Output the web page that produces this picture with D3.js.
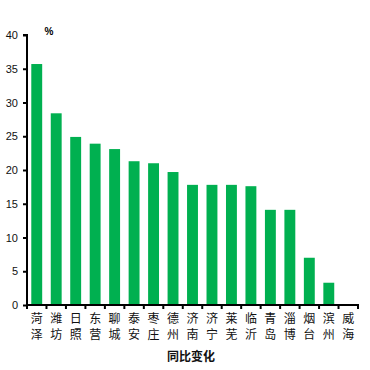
<!DOCTYPE html>
<html><head><meta charset="utf-8">
<script src="https://cdn.jsdelivr.net/npm/d3@7/dist/d3.min.js"></script>
<style>body{margin:0;background:#fff}svg{display:block}</style>
</head><body>
<svg id="c" width="370" height="370"></svg>
<script>
const categories = ["菏泽","潍坊","日照","东营","聊城","泰安","枣庄","德州","济南","济宁","莱芜","临沂","青岛","淄博","烟台","滨州","威海"];
const values = [35.7, 28.4, 24.9, 23.9, 23.1, 21.3, 21.0, 19.7, 17.8, 17.8, 17.8, 17.6, 14.1, 14.1, 7.0, 3.3, 0];
const yTicks = [0,5,10,15,20,25,30,35,40];
const unitLabel = "%";
const axisTitle = "同比变化";

(function(){
const svg = d3.select("#c");
const mLeft = 27, mRight = 358, mTop = 35, mBottom = 305;
const x = d3.scaleBand().domain(categories).range([mLeft, mRight]).paddingInner(0.44).paddingOuter(0.22);
const xb = d3.scaleBand().domain(categories).range([mLeft, mRight]).padding(0);
const y = d3.scaleLinear().domain([0, 40]).range([mBottom, mTop]);
const font = "'Liberation Sans', Arial, sans-serif";

svg.append("g").selectAll("rect").data(values).join("rect")
  .attr("x", (d,i) => x(categories[i]))
  .attr("width", x.bandwidth())
  .attr("y", d => y(d))
  .attr("height", d => y(0) - y(d))
  .attr("fill", "#00B050");

// y axis
const ya = svg.append("g").attr("transform", `translate(${mLeft},0)`)
  .call(d3.axisLeft(y).tickValues(yTicks).tickSize(4).tickPadding(5));
ya.select(".domain").attr("stroke", "#000").attr("stroke-width", 2).attr("d", `M-4,${mTop}H0V${mBottom}`);
ya.selectAll(".tick line").attr("stroke", "#000").attr("stroke-width", 2);
ya.selectAll(".tick text").attr("font-family", font).attr("font-size", 11).attr("fill", "#111");

// x axis line and ticks
const xa = svg.append("g").attr("transform", `translate(0,${mBottom})`);
xa.append("line").attr("x1", mLeft - 1).attr("x2", mRight + 1).attr("stroke", "#000").attr("stroke-width", 2);
const bounds = categories.map(c => xb(c)).concat([mRight]);
xa.selectAll("line.t").data(bounds).join("line").attr("class","t")
  .attr("x1", d => d).attr("x2", d => d).attr("y1", 0).attr("y2", 4)
  .attr("stroke", "#000").attr("stroke-width", 2);

// x labels (vertical two chars)
const lab = svg.append("g");
categories.forEach(c => {
  const cx = xb(c) + xb.bandwidth()/2;
  [...c].forEach((ch, k) => {
    lab.append("text").attr("x", cx).attr("y", 323 + k*15.5)
      .attr("text-anchor", "middle").attr("font-family", "'Noto Sans CJK SC', sans-serif")
      .attr("font-size", 12).attr("fill", "#111").text(ch);
  });
});

svg.append("text").attr("x", 49).attr("y", 35).attr("text-anchor","middle")
  .attr("font-family", font).attr("font-size", 10).attr("font-weight","bold").text(unitLabel);

svg.append("text").attr("x", 191).attr("y", 361).attr("text-anchor","middle")
  .attr("font-family", "'Noto Sans CJK SC', sans-serif").attr("font-size", 12).attr("font-weight","bold")
  .attr("fill","#111").text(axisTitle);
})();
</script>
</body></html>
